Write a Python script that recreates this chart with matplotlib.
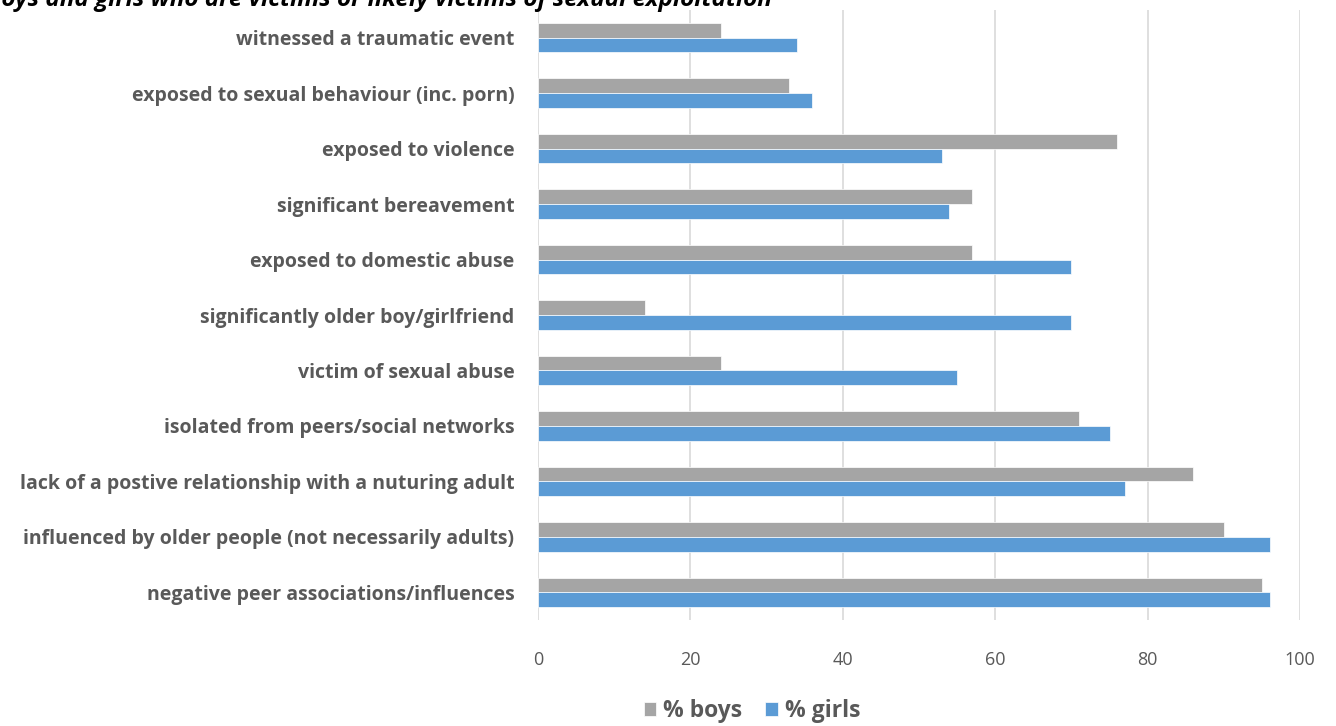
import matplotlib
matplotlib.use("Agg")
import matplotlib.pyplot as plt
import numpy as np

# risk factors, top to bottom
factors = [
    "witnessed a traumatic event",
    "exposed to sexual behaviour (inc. porn)",
    "exposed to violence",
    "significant bereavement",
    "exposed to domestic abuse",
    "significantly older boy/girlfriend",
    "victim of sexual abuse",
    "isolated from peers/social networks",
    "lack of a postive relationship with a nuturing adult",
    "influenced by older people (not necessarily adults)",
    "negative peer associations/influences",
]
boys = [24, 33, 76, 57, 57, 14, 24, 71, 86, 90, 95]
girls = [34, 36, 53, 54, 70, 70, 55, 75, 77, 96, 96]
xticks = [0, 20, 40, 60, 80, 100]

GREY = "#A5A5A5"
BLUE = "#5B9BD5"
TXT = "#595959"

plt.rcParams["font.family"] = ["Open Sans", "DejaVu Sans"]

fig = plt.figure(figsize=(13.36, 7.26), dpi=100)
ax = fig.add_axes([538 / 1336, 1 - 620 / 726, (1300 - 538) / 1336, 610 / 726])

y = np.arange(len(factors))
h = 0.265
ax.barh(y - h / 2, boys, height=h, color=GREY, edgecolor="white", linewidth=0.5,
        label="% boys", zorder=3)
ax.barh(y + h / 2, girls, height=h, color=BLUE, edgecolor="white", linewidth=0.5,
        label="% girls", zorder=3)

ax.set_xlim(0, 100)
ax.set_ylim(len(factors) - 0.5, -0.5)
ax.set_xticks(xticks)
ax.set_yticks(y)
ax.set_yticklabels(factors, fontsize=14, fontweight="bold", color=TXT)
ax.tick_params(axis="x", length=0, pad=22, labelsize=13, labelcolor=TXT)
ax.tick_params(axis="y", length=0, pad=17)

ax.grid(axis="x", color="#D9D9D9", linewidth=1.2, zorder=0)
ax.grid(axis="y", visible=False)
for s in ax.spines.values():
    s.set_visible(False)

# chart title runs off the top edge
fig.text(-0.01, 1 - 6 / 726, "boys and girls who are victims or likely victims of sexual exploitation",
         fontsize=17.5, fontweight="bold", fontstyle="italic", color="black", va="baseline", ha="left")

fig.legend(loc="center", bbox_to_anchor=(752 / 1336, 1 - 711 / 726), ncol=2, frameon=False,
           prop={"size": 16.5, "weight": "bold"}, labelcolor=TXT,
           handlelength=0.55, handleheight=0.55, handletextpad=0.3, columnspacing=1.0)

fig.savefig("out.png", dpi=100)
